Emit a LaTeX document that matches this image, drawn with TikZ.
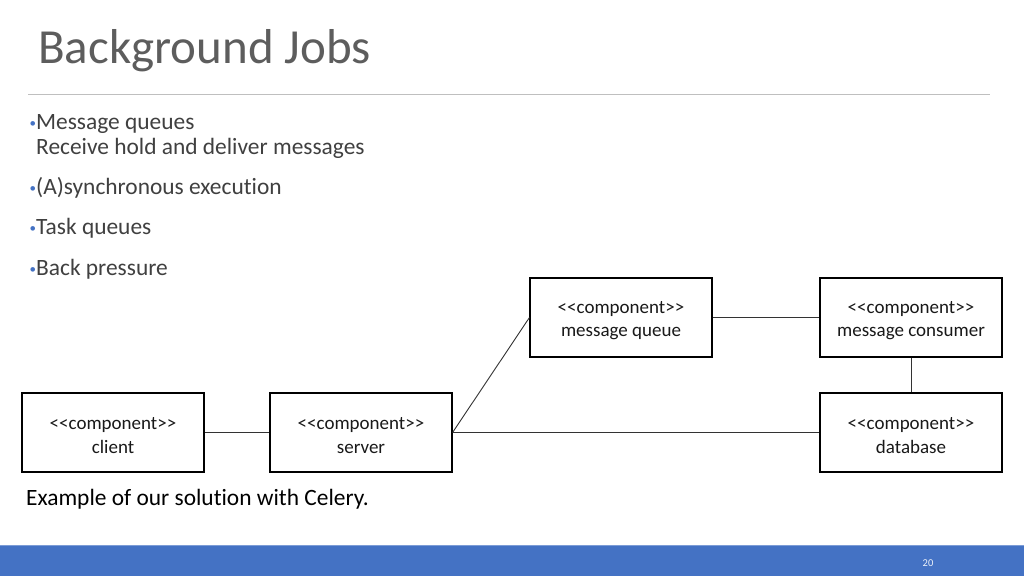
\documentclass[tikz,border=0pt]{standalone}
\usepackage{fontspec}
\setmainfont{Carlito}[Ligatures={TeXOff,NoCommon}]
\usepackage{xcolor}
\usepackage{tikz}
\usetikzlibrary{positioning}

\definecolor{slideblue}{HTML}{4472C4}
\definecolor{bodygray}{HTML}{404040}
% stereotype line, with some room above it
\newcommand{\stereo}{\raisebox{0pt}[\dimexpr\height+6pt\relax]{<<component>>}}

\begin{document}
\begin{tikzpicture}[
  x=1pt, y=-1pt,
  comp/.style={draw=black, line width=1.1pt, fill=white, align=center, minimum width=182pt, minimum height=79pt, inner sep=2pt, font=\fontsize{19}{23.5}\selectfont, text=black!90},
  link/.style={line width=0.9pt, draw=black!80},
  bul/.style={anchor=base west, inner sep=0pt, text=bodygray, font=\fontsize{23.4}{27}\selectfont},
  t/.style={anchor=base west, inner sep=0pt},
]
\useasboundingbox[fill=white] (0,0) rectangle (1024,576);
% title and rule
\node[t, text=bodygray!85, font=\fontsize{49}{55}\selectfont] (title) at (38,63) {Background Jobs};
\coordinate (ruleL) at (28,94.5); \coordinate (ruleR) at (990,94.5);
\draw[black!25, line width=0.9pt] (ruleL) -- (ruleR);
% bullets
\newcommand{\dotb}{{\color{slideblue}\fontsize{13}{13}\selectfont\raisebox{2pt}{•}}}
\node[bul] (b1) at (29.5,129) {\dotb Message queues};
\node[bul] (b1b) at (36,154) {Receive hold and deliver messages};
\node[bul] (b2) at (29.5,194) {\dotb(A)synchronous execution};
\node[bul] (b3) at (29.5,234.5) {\dotb Task queues};
\node[bul] (b4) at (29.5,275) {\dotb Back pressure};
% components
\node[comp] (queue) at (621,317.5) {\stereo\\message queue};
\node[comp] (consumer) at (911,317.5) {\stereo\\message consumer};
\node[comp] (client) at (113,432.5) {\stereo\\client};
\node[comp] (server) at (361,432.5) {\stereo\\server};
\node[comp] (db) at (911,432.5) {\stereo\\database};
\draw[link] (client) -- (server);
\draw[link] (server.east) -- (db.west);
\draw[link] (server.east) -- (queue.west);
\draw[link] (queue) -- (consumer);
\draw[link] (consumer) -- (db);
\node[t, text=black, font=\fontsize{23.4}{27}\selectfont] (caption) at (26,505) {Example of our solution with Celery.};
% footer bar
\fill[slideblue] (0,545) rectangle (1024,576);
\draw[slideblue!70!white, line width=1pt] (0,545.5) -- (1024,545.5);
\node[text=white!90!slideblue, font=\fontsize{10.5}{12}\selectfont, inner sep=0pt] (page) at (928,563) {20};
\end{tikzpicture}
\end{document}
